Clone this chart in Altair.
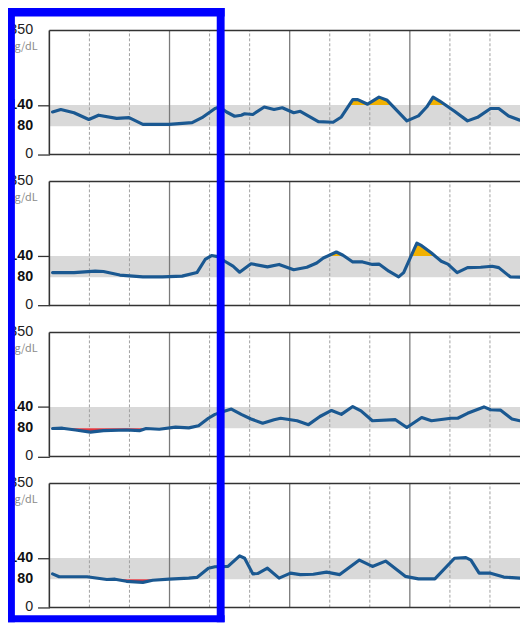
import altair as alt
import pandas as pd

# ---- data (hours of day, glucose mg/dL), one pair of lists per day panel ----
HOURS_1 = [0.16, 0.57, 1.23, 1.97, 2.46, 3.36, 3.98, 4.67, 5.98, 7.13, 7.62, 8.27, 8.5, 8.85, 9.25,
           9.58, 9.75, 10.16, 10.73, 11.22, 11.63, 12.2, 12.53, 13.43, 14.17, 14.58, 15.15, 15.4, 15.89,
           16.46, 16.87, 17.85, 18.43, 18.84, 19.16, 19.49, 20.23, 20.88, 21.38, 22.03, 22.44, 22.93, 23.49]
GLUCOSE_1 = [120, 127, 118, 99, 111, 102, 104, 85, 85, 90, 104, 130, 134, 120, 108,
             111, 115, 113, 134, 127, 132, 118, 122, 93, 91, 106, 155, 155, 142,
             162, 153, 95, 109, 134, 162, 151, 122, 95, 105, 130, 130, 109, 97]

HOURS_2 = [0.16, 1.23, 2.29, 2.7, 3.52, 4.67, 5.65, 6.63, 7.37, 7.78, 8.1, 8.4, 8.76, 9.17, 9.5,
           10.07, 10.89, 11.47, 12.2, 12.86, 13.35, 13.68, 14.33, 14.66, 15.15, 15.64, 16.13, 16.46,
           16.95, 17.44, 17.69, 18.35, 18.59, 19.08, 19.57, 19.9, 20.36, 20.88, 21.54, 22.11, 22.44,
           23.01, 23.49]
GLUCOSE_2 = [93, 93, 97, 96, 86, 81, 81, 83, 93, 130, 141, 138, 125, 111, 94,
             118, 109, 116, 101, 108, 120, 134, 151, 142, 123, 123, 116, 117,
             97, 81, 93, 176, 169, 148, 125, 117, 93, 107, 108, 111, 107,
             81, 80]

HOURS_3 = [0.16, 0.65, 1.31, 2.05, 2.7, 3.85, 4.5, 4.83, 5.49, 6.3, 6.96, 7.45, 7.94, 8.27, 8.73,
           9.09, 9.58, 10.07, 10.65, 11.22, 11.55, 12.37, 12.94, 13.51, 14.09, 14.58, 15.15, 15.56,
           16.13, 17.28, 17.85, 18.59, 19.08, 20.06, 20.39, 20.88, 21.7, 22.03, 22.52, 23.1, 23.49]
GLUCOSE_3 = [79, 80, 75, 69, 73, 75, 73, 79, 77, 83, 81, 87, 108, 119, 128,
             134, 119, 106, 94, 104, 108, 101, 90, 113, 130, 119, 141, 129,
             101, 104, 82, 110, 101, 108, 108, 122, 140, 132, 131, 106, 101]

HOURS_4 = [0.16, 0.49, 1.88, 2.87, 3.28, 3.85, 4.67, 5.16, 5.98, 6.96, 7.37, 7.94, 8.27, 8.92, 9.5,
           9.75, 10.16, 10.4, 10.89, 11.47, 12.04, 12.53, 13.18, 13.84, 14.5, 15.48, 16.13, 16.79,
           17.77, 18.43, 19.25, 20.23, 20.8, 21.05, 21.46, 22.03, 22.69, 23.49]
GLUCOSE_4 = [95, 87, 87, 79, 80, 74, 71, 77, 80, 83, 85, 111, 115, 116, 146,
             139, 95, 96, 111, 83, 97, 93, 94, 100, 93, 134, 116, 131,
             88, 81, 81, 139, 141, 134, 97, 97, 86, 83]

SERIES = [(HOURS_1, GLUCOSE_1), (HOURS_2, GLUCOSE_2), (HOURS_3, GLUCOSE_3), (HOURS_4, GLUCOSE_4)]

TARGET_LOW, TARGET_HIGH = 80, 140
Y_MAX = 350
Y_TICKS = [0, 80, 140, 350]
X_MAX = 23.5
GRID_DASHED = [2, 4, 8, 10, 14, 16, 20, 22]
GRID_SOLID = [6, 12, 18]
UNIT = "mg/dL"

# ---- layout: the four day panels are stacked on one shared y scale ----
STEP = 426                                   # panel pitch in mg/dL units
OFFSETS = [3 * STEP, 2 * STEP, STEP, 0]      # top panel first
PX = 0.36                                    # pixels per mg/dL
W = 478
HEIGHT = (OFFSETS[0] + Y_MAX) * PX

LINE_COLOR = "#1a5891"
HIGH_FILL = "#f2b100"
LOW_FILL = "#e2343c"
BAND_COLOR = "#d9d9d9"
FRAME_BLUE = "#0000ff"
LABEL_FONT = "Liberation Sans"
UNIT_FONT = "Noto Sans CJK JP"

# ---- tables built from the arrays ----
rows = []
for k, (hs, gs) in enumerate(SERIES):
    for h, g in zip(hs, gs):
        rows.append({"panel": k, "h": h, "y": g + OFFSETS[k]})
cgm = pd.DataFrame(rows)


def excursion(hs, gs, thr, above):
    """Outline of the region between the trace and a threshold (trace clipped at it)."""
    pts = []
    for i, (h, g) in enumerate(zip(hs, gs)):
        if i > 0:
            h0, g0 = hs[i - 1], gs[i - 1]
            if (g0 - thr) * (g - thr) < 0:
                pts.append((h0 + (thr - g0) * (h - h0) / (g - g0), thr))
        pts.append((h, max(g, thr) if above else min(g, thr)))
    return pts


hi_rows, lo_rows = [], []
for k, (hs, gs) in enumerate(SERIES):
    o = OFFSETS[k]
    for h, v in excursion(hs, gs, TARGET_HIGH, True):
        hi_rows.append({"panel": k, "h": h, "top": v + o, "ref": TARGET_HIGH + o})
    for h, v in excursion(hs, gs, TARGET_LOW, False):
        lo_rows.append({"panel": k, "h": h, "bot": v + o, "ref": TARGET_LOW + o})
hi_df = pd.DataFrame(hi_rows)
lo_df = pd.DataFrame(lo_rows)

panels = pd.DataFrame({"panel": range(4), "off": OFFSETS})
panels["band_lo"] = panels.off + TARGET_LOW
panels["band_hi"] = panels.off + TARGET_HIGH
panels["y0"] = panels.off
panels["y1"] = panels.off + Y_MAX
panels["unit"] = UNIT
panels["unit_y"] = panels.off + Y_MAX - 16.5 / PX

labels = pd.DataFrame([{"y": o + t, "text": str(t), "bold": t in (TARGET_LOW, TARGET_HIGH)}
                       for o in OFFSETS for t in Y_TICKS])

grid = pd.DataFrame([{"h": h, "y0": o, "y1": o + Y_MAX, "solid": h in GRID_SOLID}
                     for o in OFFSETS for h in sorted(GRID_DASHED + GRID_SOLID)])
borders = pd.DataFrame([{"b": o + v} for o in OFFSETS for v in (0, Y_MAX)])

x_scale = alt.Scale(domain=[0, X_MAX], nice=False, zero=False)
y_scale = alt.Scale(domain=[0, OFFSETS[0] + Y_MAX], nice=False, zero=False)
X = alt.X("h:Q", scale=x_scale, axis=None)

band = alt.Chart(panels).mark_rect(color=BAND_COLOR).encode(
    x=alt.value(0), x2=alt.value(W),
    y=alt.Y("band_lo:Q", scale=y_scale, axis=alt.Axis(
        values=[float(v) for v in labels.y], labels=False, title=None, grid=False,
        domain=False, tickSize=12, tickWidth=1.3, tickColor="#333",
    )),
    y2="band_hi:Q",
)

grid_d = alt.Chart(grid[~grid.solid]).mark_rule(
    color="#a0a0a0", strokeDash=[3, 2], strokeWidth=1
).encode(x=X, y=alt.Y("y0:Q", scale=y_scale), y2="y1:Q")
grid_s = alt.Chart(grid[grid.solid]).mark_rule(color="#7a7a7a", strokeWidth=1.3).encode(
    x=X, y=alt.Y("y0:Q", scale=y_scale), y2="y1:Q")

hlines = alt.Chart(borders).mark_rule(color="#333", strokeWidth=1.5).encode(
    x=alt.value(0), x2=alt.value(W), y=alt.Y("b:Q", scale=y_scale))
vaxis = alt.Chart(panels).mark_rule(color="#333", strokeWidth=1.6).encode(
    x=alt.value(0), y=alt.Y("y0:Q", scale=y_scale), y2="y1:Q")

high = alt.Chart(hi_df).mark_area(color=HIGH_FILL, interpolate="linear").encode(
    x=X, y=alt.Y("top:Q", scale=y_scale), y2="ref:Q", detail="panel:N")
low = alt.Chart(lo_df).mark_area(color=LOW_FILL, interpolate="linear").encode(
    x=X, y=alt.Y("bot:Q", scale=y_scale), y2="ref:Q", detail="panel:N")
line = alt.Chart(cgm).mark_line(color=LINE_COLOR, strokeWidth=3.2, interpolate="linear",
                                strokeJoin="round", strokeCap="round").encode(
    x=X, y=alt.Y("y:Q", scale=y_scale), detail="panel:N")

tick_bold = alt.Chart(labels[labels.bold]).mark_text(
    align="right", baseline="middle", font=LABEL_FONT, fontSize=14.5, fontWeight="bold",
    color="#111"
).encode(text="text:N", x=alt.value(-16.5), y=alt.Y("y:Q", scale=y_scale))
tick_norm = alt.Chart(labels[~labels.bold]).mark_text(
    align="right", baseline="middle", font=LABEL_FONT, fontSize=14.5, color="#222"
).encode(text="text:N", x=alt.value(-16.5), y=alt.Y("y:Q", scale=y_scale))

unit = alt.Chart(panels).mark_text(
    align="right", baseline="middle", fontSize=11, color="#8a8a8a", font=UNIT_FONT
).encode(text="unit:N", x=alt.value(-12), y=alt.Y("unit_y:Q", scale=y_scale))

# ---- blue annotation frame (pixel positions relative to the plot origin) ----
one = pd.DataFrame({"k": [0]})
frame_bars = [
    (-42, 178, -26, -14.3),   # top edge
    (-42, -35, -26, 601),     # left edge
    (170, 178, -26, 601),     # right edge
    (-42, 178, 594, 601),     # bottom edge
]
frame = [alt.Chart(one).mark_rect(color=FRAME_BLUE).encode(
    x=alt.value(x0), x2=alt.value(x1), y=alt.value(y0), y2=alt.value(y1))
    for x0, x1, y0, y1 in frame_bars]

chart = alt.layer(band, grid_d, grid_s, hlines, vaxis, high, low, line,
                  tick_bold, tick_norm, unit, *frame).properties(
    width=W, height=HEIGHT,
    autosize=alt.AutoSizeParams(type="none"),
    padding={"left": 42, "top": 18, "right": 0, "bottom": 15},
).configure_view(stroke=None)

chart.save("out.html", embed_options={"renderer": "svg", "actions": False})
